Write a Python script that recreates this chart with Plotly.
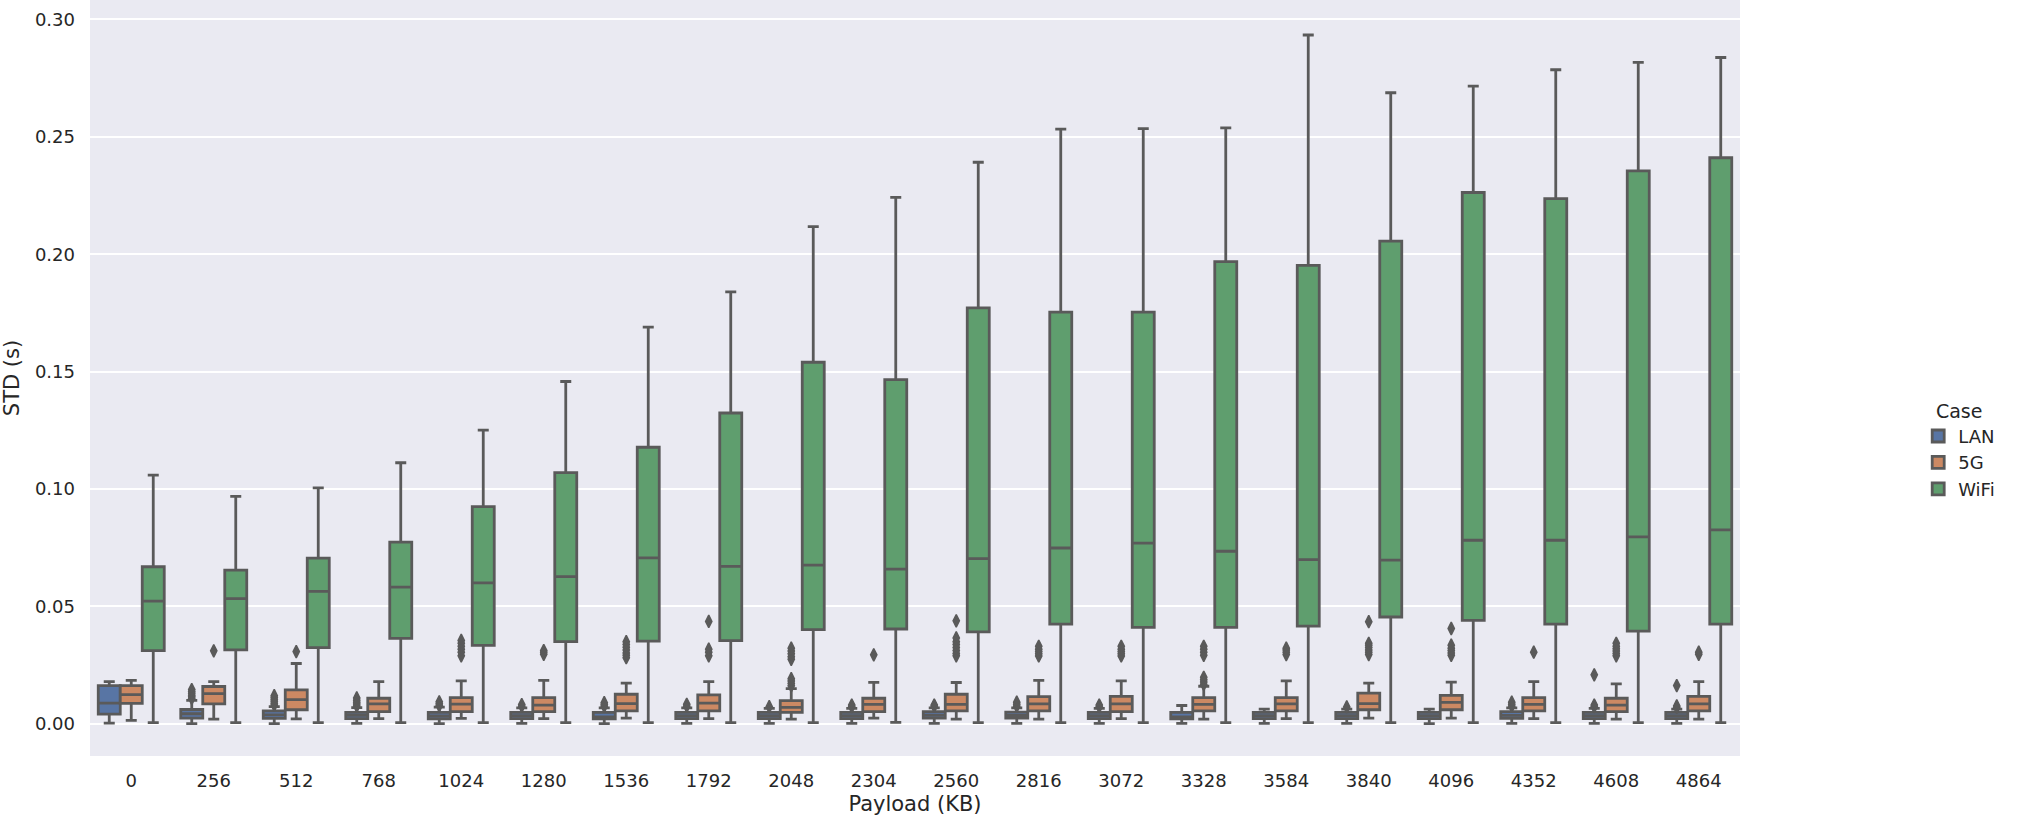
import plotly.graph_objects as go

# ---------------- data ----------------
payload_labels = ["0", "256", "512", "768", "1024", "1280", "1536", "1792", "2048", "2304",
                  "2560", "2816", "3072", "3328", "3584", "3840", "4096", "4352", "4608", "4864"]
cases = ["LAN", "5G", "WiFi"]

# LAN
lan_low = [0.0003, 0.0001, 0.0001, 0.0002, 0.0001, 0.0002, 0.0001, 0.0002, 0.0002, 0.0002,
           0.0002, 0.0002, 0.0002, 0.0002, 0.0002, 0.0002, 0.0001, 0.0002, 0.0002, 0.0002]
lan_q1 = [0.0041, 0.0024, 0.0023, 0.0022, 0.0021, 0.0022, 0.0021, 0.0022, 0.0022, 0.0022,
          0.0024, 0.0024, 0.0022, 0.0021, 0.0022, 0.0022, 0.0022, 0.0023, 0.0022, 0.0022]
lan_med = [0.0088, 0.0043, 0.0038, 0.0036, 0.0034, 0.0035, 0.0030, 0.0035, 0.0035, 0.0035,
           0.0037, 0.0036, 0.0035, 0.0030, 0.0035, 0.0035, 0.0035, 0.0036, 0.0035, 0.0035]
lan_q3 = [0.0163, 0.0061, 0.0055, 0.0049, 0.0049, 0.0049, 0.0049, 0.0049, 0.0049, 0.0049,
          0.0052, 0.0050, 0.0049, 0.0049, 0.0049, 0.0049, 0.0049, 0.0052, 0.0049, 0.0049]
lan_high = [0.0180, 0.0100, 0.0073, 0.0069, 0.0071, 0.0068, 0.0068, 0.0068, 0.0066, 0.0066,
            0.0068, 0.0068, 0.0066, 0.0078, 0.0063, 0.0063, 0.0063, 0.0068, 0.0066, 0.0063]
lan_outliers = [
    [],
    [0.0108, 0.0115, 0.0122, 0.0130, 0.0138, 0.0146],
    [0.0080, 0.0088, 0.0096, 0.0104, 0.0112, 0.0120],
    [0.0076, 0.0084, 0.0092, 0.0100, 0.0110],
    [0.0078, 0.0086, 0.0094],
    [0.0075, 0.0082],
    [0.0075, 0.0082, 0.0090],
    [0.0075, 0.0083],
    [0.0073],
    [0.0073, 0.0080],
    [0.0075, 0.0080],
    [0.0075, 0.0083, 0.0092],
    [0.0073, 0.0080],
    [],
    [],
    [0.0072],
    [],
    [0.0075, 0.0083, 0.0092],
    [0.0073, 0.0080, 0.0209],
    [0.0070, 0.0076, 0.0163],
]

# 5G
g5_low = [0.0015, 0.0020, 0.0021, 0.0022, 0.0023, 0.0022, 0.0024, 0.0022, 0.0020, 0.0024,
          0.0020, 0.0020, 0.0022, 0.0020, 0.0022, 0.0024, 0.0024, 0.0022, 0.0020, 0.0020]
g5_q1 = [0.0087, 0.0085, 0.0060, 0.0052, 0.0052, 0.0052, 0.0055, 0.0055, 0.0049, 0.0052,
         0.0055, 0.0055, 0.0052, 0.0055, 0.0055, 0.0060, 0.0060, 0.0055, 0.0052, 0.0055]
g5_med = [0.0124, 0.0129, 0.0103, 0.0085, 0.0084, 0.0080, 0.0086, 0.0088, 0.0070, 0.0083,
          0.0083, 0.0085, 0.0085, 0.0083, 0.0085, 0.0086, 0.0091, 0.0083, 0.0080, 0.0085]
g5_q3 = [0.0163, 0.0159, 0.0145, 0.0109, 0.0112, 0.0112, 0.0126, 0.0123, 0.0099, 0.0109,
         0.0126, 0.0116, 0.0117, 0.0112, 0.0112, 0.0131, 0.0121, 0.0112, 0.0109, 0.0117]
g5_high = [0.0185, 0.0180, 0.0257, 0.0180, 0.0183, 0.0185, 0.0173, 0.0180, 0.0150, 0.0177,
           0.0176, 0.0185, 0.0183, 0.0160, 0.0183, 0.0173, 0.0178, 0.0180, 0.0170, 0.0180]
g5_outliers = [
    [],
    [0.0311],
    [0.0308],
    [],
    [0.0290, 0.0305, 0.0318, 0.0330, 0.0343, 0.0355],
    [0.0296, 0.0305, 0.0312],
    [0.0282, 0.0292, 0.0302, 0.0314, 0.0326, 0.0338, 0.0350],
    [0.0290, 0.0305, 0.0318, 0.0436],
    [0.0162, 0.0172, 0.0182, 0.0192, 0.0275, 0.0286, 0.0298, 0.0310, 0.0322],
    [0.0294],
    [0.0290, 0.0300, 0.0312, 0.0325, 0.0338, 0.0350, 0.0366, 0.0439],
    [0.0289, 0.0298, 0.0308, 0.0318, 0.0330],
    [0.0289, 0.0298, 0.0308, 0.0318, 0.0330],
    [0.0168, 0.0178, 0.0188, 0.0198, 0.0292, 0.0305, 0.0318, 0.0330],
    [0.0295, 0.0305, 0.0315, 0.0322],
    [0.0295, 0.0305, 0.0315, 0.0325, 0.0335, 0.0343, 0.0435],
    [0.0292, 0.0302, 0.0312, 0.0322, 0.0335, 0.0406],
    [0.0305],
    [0.0290, 0.0300, 0.0310, 0.0320, 0.0330, 0.0343],
    [0.0296, 0.0305],
]

# WiFi
wifi_low = [0.0005, 0.0005, 0.0005, 0.0005, 0.0005, 0.0005, 0.0005, 0.0005, 0.0005, 0.0006,
            0.0005, 0.0005, 0.0005, 0.0005, 0.0005, 0.0005, 0.0005, 0.0005, 0.0005, 0.0005]
wifi_q1 = [0.0312, 0.0315, 0.0325, 0.0364, 0.0334, 0.0350, 0.0352, 0.0354, 0.0401, 0.0404,
           0.0392, 0.0425, 0.0411, 0.0411, 0.0416, 0.0455, 0.0441, 0.0425, 0.0395, 0.0425]
wifi_med = [0.0523, 0.0533, 0.0564, 0.0582, 0.0600, 0.0627, 0.0707, 0.0671, 0.0676, 0.0659,
            0.0704, 0.0749, 0.0770, 0.0735, 0.0699, 0.0697, 0.0782, 0.0782, 0.0796, 0.0826]
wifi_q3 = [0.0669, 0.0655, 0.0706, 0.0774, 0.0925, 0.1070, 0.1178, 0.1324, 0.1540, 0.1466,
           0.1772, 0.1754, 0.1754, 0.1969, 0.1953, 0.2056, 0.2263, 0.2237, 0.2355, 0.2411]
wifi_high = [0.1059, 0.0969, 0.1005, 0.1112, 0.1251, 0.1458, 0.1690, 0.1840, 0.2118, 0.2242,
             0.2392, 0.2533, 0.2535, 0.2538, 0.2934, 0.2688, 0.2716, 0.2786, 0.2817, 0.2838]

# ---------------- styling ----------------
colors = {"LAN": "#5875A4", "5G": "#CC8963", "WiFi": "#5F9E6E"}
line_gray = "#5a5a5a"
text_col = "#262626"
font_family = "DejaVu Sans"
hue_width = 0.8 / 3
offsets = {"LAN": -hue_width, "5G": 0.0, "WiFi": hue_width}

stats = {
    "LAN": (lan_low, lan_q1, lan_med, lan_q3, lan_high, lan_outliers),
    "5G": (g5_low, g5_q1, g5_med, g5_q3, g5_high, g5_outliers),
    "WiFi": (wifi_low, wifi_q1, wifi_med, wifi_q3, wifi_high, [[] for _ in payload_labels]),
}

fig = go.Figure()
idx = list(range(len(payload_labels)))

for case in cases:
    low, q1, med, q3, high, outs = stats[case]
    xs = [i + offsets[case] for i in idx]
    fig.add_trace(go.Box(
        name=case,
        x=xs,
        q1=q1, median=med, q3=q3, lowerfence=low, upperfence=high,
        width=hue_width,
        whiskerwidth=0.5,
        fillcolor=colors[case],
        line=dict(color=line_gray, width=2.8),
        boxpoints=False,
        showlegend=True,
    ))

for case in cases:
    outs = stats[case][5]
    ox, oy = [], []
    for i, vals in enumerate(outs):
        for v in vals:
            ox.append(i + offsets[case])
            oy.append(v)
    if ox:
        fig.add_trace(go.Scatter(
            x=ox, y=oy, mode="markers",
            marker=dict(symbol="diamond-tall", size=9, color=line_gray,
                        line=dict(color=line_gray, width=1.5)),
            showlegend=False, hoverinfo="y",
        ))

fig.update_layout(
    width=2017, height=817,
    margin=dict(l=90, r=277, t=0, b=61),
    paper_bgcolor="white",
    plot_bgcolor="#EAEAF2",
    font=dict(family=font_family, size=18, color=text_col),
    boxmode="overlay",
    legend=dict(
        title=dict(text="Case", font=dict(size=19, color=text_col), side="top center"),
        font=dict(size=18, color=text_col),
        x=1.108, xanchor="left", y=0.48, yanchor="top",
        bgcolor="rgba(0,0,0,0)",
        tracegroupgap=0,
    ),
    xaxis=dict(
        range=[-0.5, len(payload_labels) - 0.5],
        tickmode="array", tickvals=idx, ticktext=payload_labels,
        showgrid=False, zeroline=False, showline=False,
        ticks="", ticklabelstandoff=12,
        tickfont=dict(size=18, color=text_col),
        title=dict(text="Payload (KB)", font=dict(size=21, color=text_col), standoff=6),
    ),
    yaxis=dict(
        range=[-0.0137, 0.3083],
        tickmode="array", tickvals=[0.0, 0.05, 0.10, 0.15, 0.20, 0.25, 0.30],
        tickformat=".2f",
        showgrid=True, gridcolor="white", gridwidth=1.5,
        zeroline=False, showline=False,
        ticks="", ticklabelstandoff=14,
        tickfont=dict(size=18, color=text_col),
        title=dict(text="STD (s)", font=dict(size=21, color=text_col), standoff=10),
    ),
)

fig.write_html("out.html")
